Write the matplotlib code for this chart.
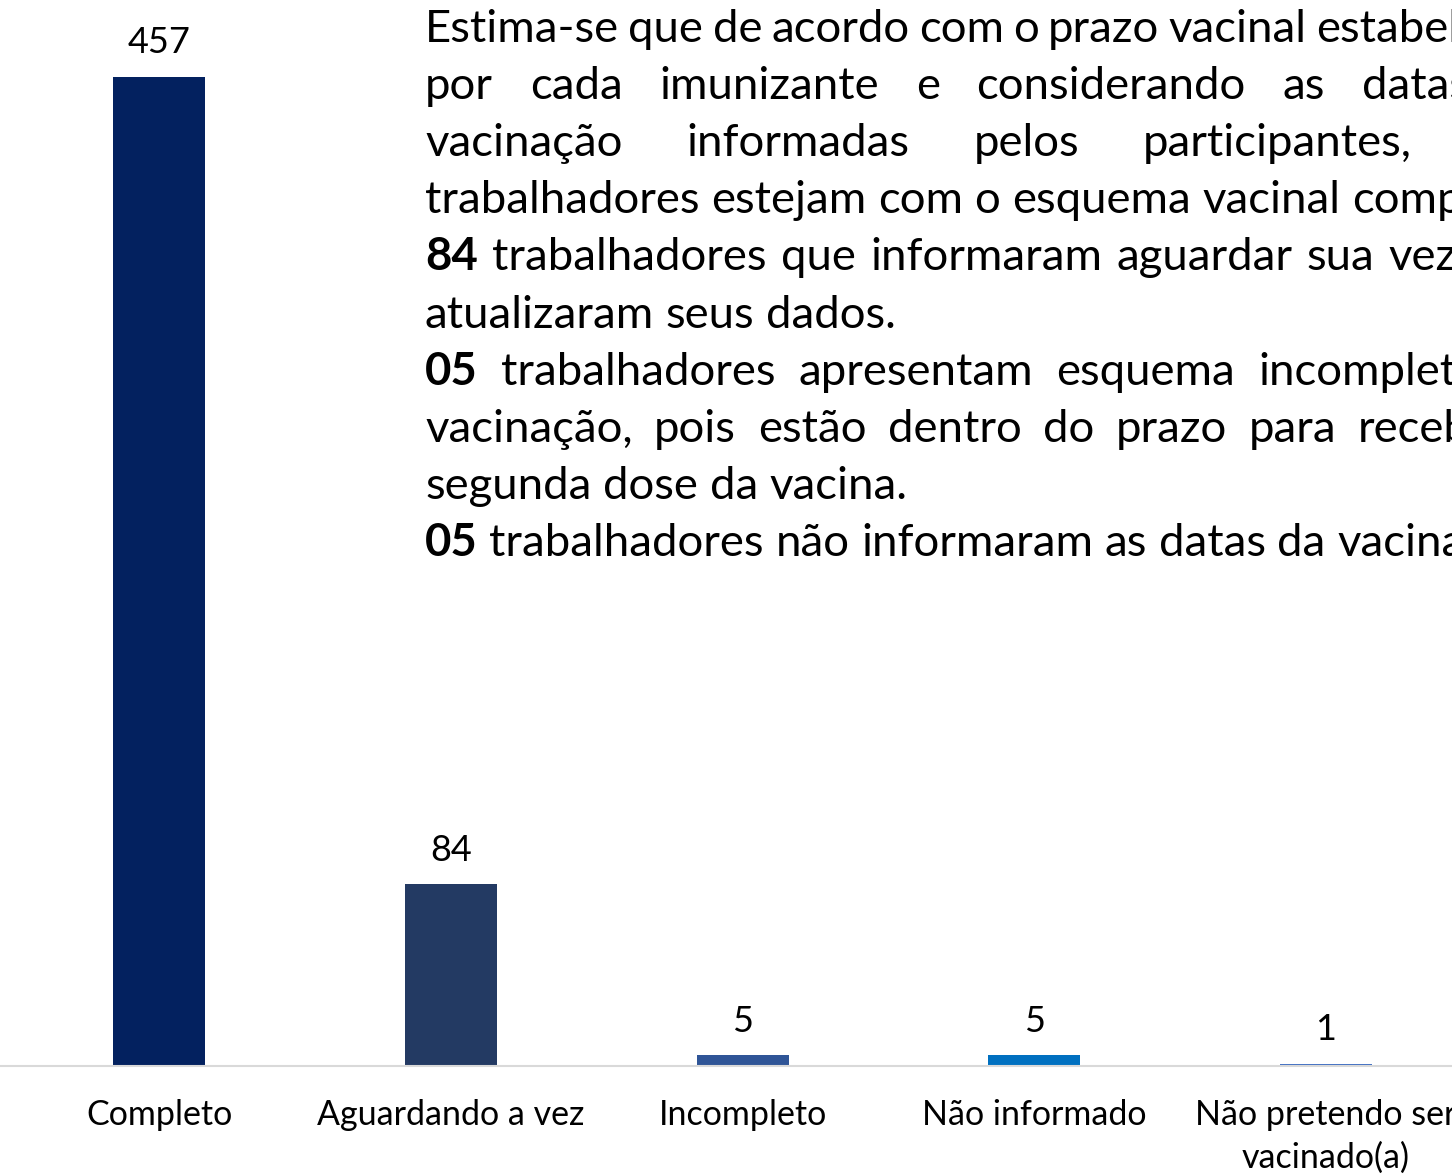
import numpy as np
import matplotlib.pyplot as plt

# dados do gráfico
categorias = ["Completo", "Aguardando a vez", "Incompleto", "Não informado",
              "Não pretendo ser\nvacinado(a)"]
valores = [457, 84, 5, 5, 1]
cores = ["#03215F", "#233A63", "#2F5597", "#0070C0", "#4472C4"]

# texto ao lado (negrito inicial, resto, justificado?)
linhas = [
    ("", "Estima-se que de acordo com o prazo vacinal estabelecido", True),
    ("", "por cada imunizante e considerando as datas de", True),
    ("", "vacinação informadas pelos participantes, 457", True),
    ("", "trabalhadores estejam com o esquema vacinal completo.", False),
    ("84", "trabalhadores que informaram aguardar sua vez, não", True),
    ("", "atualizaram seus dados.", False),
    ("05", "trabalhadores apresentam esquema incompleto de", True),
    ("", "vacinação, pois estão dentro do prazo para receber a", True),
    ("", "segunda dose da vacina.", False),
    ("05", "trabalhadores não informaram as datas da vacinação.", False),
]

W, H = 1452, 1176
plt.rcParams['font.family'] = ['Lato', 'DejaVu Sans']
fig = plt.figure(figsize=(W / 100, H / 100), dpi=100)

# eixo: centro da 1a barra em 159 px, passo 291.75 px, base em y=1066
passo = 291.75
ax = fig.add_axes([0, 110 / H, 1, 480 * 2.164 / H])
x = np.arange(len(valores))
ax.bar(x, valores, width=92 / passo, color=cores)
ax.set_xlim(-159 / passo, (W - 159) / passo)
ax.set_ylim(0, 480)
for i, v in enumerate(valores):
    ax.annotate(str(v), (i, v), xytext=(0, 17), textcoords="offset points",
                ha="center", va="baseline", fontsize=26, color="#000000")
ax.set_xticks(x, categorias, fontsize=24.5)
for lbl in ax.get_xticklabels():
    lbl.set_linespacing(1.4)
ax.tick_params(axis="x", length=0, pad=24)
ax.set_yticks([])
for s in ["top", "left", "right"]:
    ax.spines[s].set_visible(False)
ax.spines["bottom"].set_color("#D9D9D9")
ax.spines["bottom"].set_linewidth(1.5)

# texto justificado, em pixels
renderer = fig.canvas.get_renderer()


def largura(s, size, bold=False):
    t = fig.text(0, 0, s, fontsize=size, fontweight="bold" if bold else "normal")
    w = t.get_window_extent(renderer).width
    t.remove()
    return w


# ajusta o tamanho pela largura de "atualizaram seus dados." (~470 px)
fs = 30 * 470 / largura("atualizaram seus dados.", 30)
espaco = largura("a a", fs) - largura("aa", fs)

esq, dir_ = 425, 1555
for i, (neg, resto, just) in enumerate(linhas):
    y = 1 - (42 + 57.1 * i) / H
    palavras = [(p, False) for p in resto.split()]
    if neg:
        palavras = [(neg, True)] + palavras
    larg = [largura(p, fs, b) for p, b in palavras]
    if just and len(palavras) > 1:
        gap = max((dir_ - esq - sum(larg)) / (len(palavras) - 1), espaco * 0.8)
    else:
        gap = espaco
    xp = esq
    for (p, b), w in zip(palavras, larg):
        fig.text(xp / W, y, p, fontsize=fs, fontweight="bold" if b else "normal",
                 ha="left", va="baseline", color="#000000")
        xp += w + gap

fig.savefig("out.png", dpi=100)
